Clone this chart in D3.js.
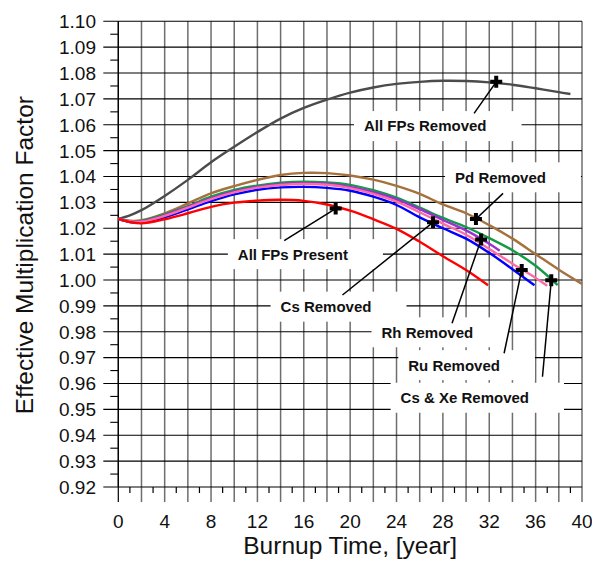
<!DOCTYPE html>
<html>
<head>
<meta charset="utf-8">
<script src="https://cdn.jsdelivr.net/npm/d3@7"></script>
<style>
  html, body { margin: 0; padding: 0; background: #fff; }
  svg { display: block; font-family: Arial, "Liberation Sans", sans-serif; }
</style>
</head>
<body>
<svg id="chart" width="592" height="561"></svg>
<script>
// Burnup time (years) and effective multiplication factor for each case
const tGray = [0,1,2,4,6,8,10,12,14,16,18,20,22,24,26,28,30,32,34,36,38,39];
const kGray = [1.0236,1.0250,1.0270,1.0325,1.0387,1.0455,1.0515,1.0572,1.0624,1.0665,1.0697,1.0724,1.0744,1.0758,1.0766,1.0770,1.0769,1.0764,1.0755,1.0741,1.0726,1.0719];

const tBrown = [0,1,2,4,6,8,10,12,14,16,18,20,22,24,26,28,30,32,34,36,38,40];
const kBrown = [1.0236,1.0229,1.0231,1.0258,1.0296,1.0335,1.0363,1.0387,1.0406,1.0414,1.0413,1.0404,1.0388,1.0364,1.0333,1.0292,1.0258,1.0212,1.0160,1.0100,1.0040,0.9985];

const tGreen = [0,1,2,4,6,8,10,12,14,16,18,20,22,24,26,28,30,32,34,36,37.9];
const kGreen = [1.0236,1.0227,1.0228,1.0254,1.0286,1.0322,1.0348,1.0365,1.0376,1.0380,1.0377,1.0368,1.0347,1.0318,1.0280,1.0240,1.0205,1.0162,1.0115,1.0055,0.9980];

const tPurple = [0,1,2,4,6,8,10,12,14,16,18,20,22,24,26,28,30,32,32.9];
const kPurple = [1.0236,1.0226,1.0226,1.0250,1.0283,1.0316,1.0342,1.0360,1.0370,1.0374,1.0372,1.0360,1.0340,1.0312,1.0274,1.0232,1.0192,1.0140,1.0113];

const tPink = [0,1,2,4,6,8,10,12,14,16,18,20,22,24,26,28,30,32,34,36,37];
const kPink = [1.0236,1.0226,1.0225,1.0248,1.0280,1.0313,1.0339,1.0357,1.0367,1.0371,1.0368,1.0355,1.0333,1.0303,1.0262,1.0218,1.0175,1.0120,1.0063,1.0008,0.9978];

const tBlue = [0,1,2,4,6,8,10,12,14,16,18,20,22,24,26,28,30,32,34,35.9];
const kBlue = [1.0236,1.0224,1.0222,1.0242,1.0273,1.0305,1.0331,1.0349,1.0358,1.0360,1.0356,1.0345,1.0322,1.0290,1.0242,1.0200,1.0160,1.0105,1.0042,0.9980];

const tRed = [0,1,2,4,6,8,10,12,14,16,18,20,22,24,26,28,30,31.9];
const kRed = [1.0236,1.0224,1.0219,1.0235,1.0258,1.0283,1.0299,1.0307,1.0310,1.0306,1.0292,1.0268,1.0235,1.0198,1.0148,1.0092,1.0039,0.9980];

// Tick values
const xTickLabels = [0,4,8,12,16,20,24,28,32,36,40];
const yTickLabels = ["0.92","0.93","0.94","0.95","0.96","0.97","0.98","0.99","1.00","1.01","1.02","1.03","1.04","1.05","1.06","1.07","1.08","1.09","1.10"];

// Annotation labels: marker point, leader end and label centre (data units)
const noteText  = ["All FPs Removed","Pd Removed","All FPs Present","Cs Removed","Rh Removed","Ru Removed","Cs & Xe Removed"];
const noteMarkT = [32.6, 30.85, 18.75, 27.15, 31.3, 34.8, 37.35];
const noteMarkK = [1.0766, 1.0236, 1.0276, 1.0223, 1.0157, 1.0039, 0.9999];
const noteLeadT = [30.69, 33.19, 14.31, 19.34, 28.79, 33.28, 36.59];
const noteLeadK = [1.0644, 1.0335, 1.0152, 0.9942, 0.9833, 0.9717, 0.9626];
const noteLabT  = [26.48, 32.97, 15.06, 17.92, 26.66, 28.97, 29.89];
const noteLabK  = [1.0595, 1.0397, 1.0100, 0.9897, 0.9798, 0.9671, 0.9545];

// Draw order: purple sits under pink so pink dominates where they coincide
const series = [
  { t: tGray,   k: kGray,   color: "#4b4b4b" },
  { t: tBrown,  k: kBrown,  color: "#a5713c" },
  { t: tGreen,  k: kGreen,  color: "#139a46" },
  { t: tBlue,   k: kBlue,   color: "#0000ff" },
  { t: tPurple, k: kPurple, color: "#9a2fd2" },
  { t: tPink,   k: kPink,   color: "#ff6aa8" },
  { t: tRed,    k: kRed,    color: "#ff0000" }
];

const svg = d3.select("#chart");
const m = { left: 118.3, top: 21.3, right: 592 - 582, bottom: 561 - 487 };
const W = 592 - m.left - m.right;
const H = 561 - m.top - m.bottom;

const x = d3.scaleLinear().domain([0, 40]).range([m.left, m.left + W]);
const y = d3.scaleLinear().domain([0.92, 1.10]).range([m.top + H, m.top]);

const g = svg.append("g");

// Vertical grid lines every 2 years (extend below the axis as major ticks)
const evenYears = d3.range(0, 41, 2);
g.append("g").selectAll("line").data(evenYears).join("line")
  .attr("x1", d => x(d)).attr("x2", d => x(d))
  .attr("y1", y(1.10)).attr("y2", y(0.92) + 15)
  .attr("stroke", d => (d === 0 ? "#000" : "#6e6e6e"))
  .attr("stroke-width", d => (d === 0 ? 1.2 : 1.5));

// Minor x ticks at odd years
g.append("g").selectAll("line").data(d3.range(1, 40, 2)).join("line")
  .attr("x1", d => x(d)).attr("x2", d => x(d))
  .attr("y1", y(0.92)).attr("y2", y(0.92) + 6)
  .attr("stroke", "#000").attr("stroke-width", 1.2);

// Horizontal grid lines every 0.01 (extend left of axis as major ticks)
const yMajor = yTickLabels.map(Number);
g.append("g").selectAll("line").data(yMajor).join("line")
  .attr("x1", x(0) - 15).attr("x2", x(40))
  .attr("y1", d => y(d)).attr("y2", d => y(d))
  .attr("stroke", "#000").attr("stroke-width", 1.1);

// Minor y ticks
g.append("g").selectAll("line").data(yMajor.slice(0, -1).map(d => d + 0.005)).join("line")
  .attr("x1", x(0) - 8).attr("x2", x(0))
  .attr("y1", d => y(d)).attr("y2", d => y(d))
  .attr("stroke", "#000").attr("stroke-width", 1.1);

// Left axis line
g.append("line")
  .attr("x1", x(0)).attr("x2", x(0)).attr("y1", y(1.10)).attr("y2", y(0.92))
  .attr("stroke", "#000").attr("stroke-width", 1.2);

// Tick labels
g.append("g").selectAll("text").data(xTickLabels).join("text")
  .attr("x", d => x(d)).attr("y", 528)
  .attr("text-anchor", "middle").attr("font-size", 19).attr("fill", "#111")
  .text(d => d);

g.append("g").selectAll("text").data(yTickLabels).join("text")
  .attr("x", 96).attr("y", d => y(+d)).attr("dy", "0.36em")
  .attr("text-anchor", "end").attr("font-size", 19).attr("fill", "#111")
  .text(d => d);

// Axis titles
svg.append("text")
  .attr("x", (x(0) + x(40)) / 2).attr("y", 554)
  .attr("text-anchor", "middle").attr("font-size", 24.5).attr("fill", "#111")
  .text("Burnup Time, [year]");

svg.append("text")
  .attr("transform", `translate(33,${(y(0.92) + y(1.10)) / 2 + 1}) rotate(-90)`)
  .attr("text-anchor", "middle").attr("font-size", 24.5).attr("fill", "#111")
  .text("Effective Multiplication Factor");

// Label backgrounds (drawn over the grid, under the curves)
const notes = noteText.map((s, i) => ({
  text: s,
  mx: x(noteMarkT[i]), my: y(noteMarkK[i]),
  lx: x(noteLeadT[i]), ly: y(noteLeadK[i]),
  cx: x(noteLabT[i]), cy: y(noteLabK[i])
}));

const boxLayer = svg.append("g");
const curveLayer = svg.append("g");
const noteLayer = svg.append("g");

const labels = noteLayer.selectAll("text").data(notes).join("text")
  .attr("x", d => d.cx).attr("y", d => d.cy).attr("dy", "0.36em")
  .attr("text-anchor", "middle").attr("font-size", 15).attr("font-weight", "bold")
  .attr("fill", "#111")
  .text(d => d.text);

labels.each(function (d) {
  const b = this.getBBox();
  boxLayer.append("rect")
    .attr("x", b.x - 10).attr("y", d.cy - 15)
    .attr("width", b.width + 45).attr("height", 30)
    .attr("fill", "#fff");
});

// Curves
const line = d3.line()
  .x(d => x(d[0])).y(d => y(d[1]))
  .curve(d3.curveCatmullRom.alpha(0.5));

curveLayer.selectAll("path").data(series).join("path")
  .attr("d", s => line(s.t.map((t, i) => [t, s.k[i]])))
  .attr("fill", "none")
  .attr("stroke", s => s.color)
  .attr("stroke-width", 2.4)
  .attr("stroke-linejoin", "round");

// Leader lines and cross markers
noteLayer.selectAll("line").data(notes).join("line")
  .attr("x1", d => d.mx).attr("y1", d => d.my)
  .attr("x2", d => d.lx).attr("y2", d => d.ly)
  .attr("stroke", "#000").attr("stroke-width", 1.5);

noteLayer.selectAll("path").data(notes).join("path")
  .attr("transform", d => `translate(${d.mx},${d.my})`)
  .attr("d", d3.symbol(d3.symbolCross, 80))
  .attr("fill", "#000");
</script>
</body>
</html>
